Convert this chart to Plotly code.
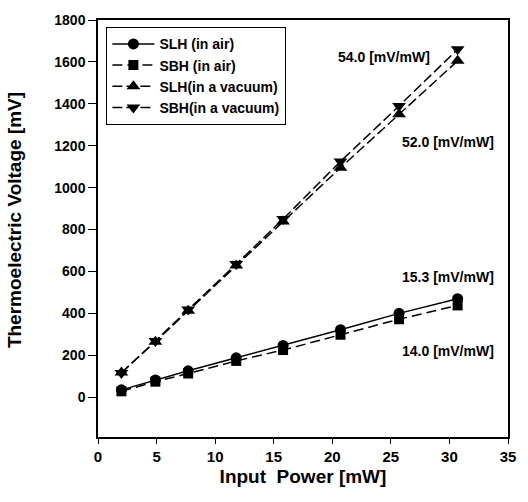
import plotly.graph_objects as go

power = [2.0, 4.9, 7.7, 11.8, 15.8, 20.7, 25.7, 30.7]
slh_air = [35, 82, 126, 188, 247, 322, 400, 470]
sbh_air = [28, 74, 113, 173, 225, 298, 372, 438]
slh_vac = [118, 265, 412, 628, 838, 1095, 1350, 1605]
sbh_vac = [115, 268, 418, 635, 850, 1125, 1390, 1660]

names = ["SLH (in air)", "SBH (in air)", "SLH(in a vacuum)", "SBH(in a vacuum)"]
slope_labels = ["15.3 [mV/mW]", "14.0 [mV/mW]", "52.0 [mV/mW]", "54.0 [mV/mW]"]
xticks = [0, 5, 10, 15, 20, 25, 30, 35]
yticks = [0, 200, 400, 600, 800, 1000, 1200, 1400, 1600, 1800]

FONT = "Liberation Sans, Arial, sans-serif"

fig = go.Figure()
series = [
    (slh_air, names[0], "solid", "circle", 11),
    (sbh_air, names[1], "10px,5px", "square", 10),
    (slh_vac, names[2], "10px,4px", "triangle-up", 12),
    (sbh_vac, names[3], "10px,4px", "triangle-down", 12),
]
for ys, nm, dash, sym, sz in series:
    fig.add_trace(go.Scatter(
        x=power, y=ys, name=nm, mode="lines+markers",
        line=dict(color="black", width=1.5, dash=dash),
        marker=dict(symbol=sym, size=sz, color="black"),
    ))

ann_pos = [(29.9, 573), (29.9, 220), (29.9, 1217), (24.4, 1622)]
for (ax, ay), txt in zip(ann_pos, slope_labels):
    fig.add_annotation(x=ax, y=ay, text=txt, showarrow=False,
                       font=dict(family=FONT, size=14, color="black", weight="bold"))

fig.add_annotation(xref="paper", yref="paper", x=-0.205, y=0.52,
                   text="Thermoelectric Voltage [mV]", textangle=-90,
                   showarrow=False, xanchor="center", yanchor="middle",
                   font=dict(family=FONT, size=19, color="black", weight="bold"))

axis_common = dict(
    showgrid=False, zeroline=False, showline=True, linecolor="black",
    linewidth=1.5, mirror=True, ticks="outside", tickcolor="black",
    tickwidth=1.2,
)
fig.update_xaxes(range=[0, 35], tickvals=xticks, ticklen=5,
                 tickfont=dict(family=FONT, size=15, color="black", weight="bold"),
                 title=dict(text="Input  Power [mW]", standoff=6,
                            font=dict(family=FONT, size=19, color="black", weight="bold")),
                 **axis_common)
fig.update_yaxes(range=[-190, 1800], tickvals=yticks, ticklen=8,
                 tickfont=dict(family=FONT, size=14, color="black", weight="bold"),
                 **axis_common)

fig.update_layout(
    width=528, height=502,
    margin=dict(l=98, r=14, t=14, b=65),
    paper_bgcolor="white", plot_bgcolor="white",
    font=dict(family=FONT, color="black"),
    legend=dict(x=0.02, y=0.983, xanchor="left", yanchor="top",
                bordercolor="black", borderwidth=1.2, bgcolor="white",
                font=dict(family=FONT, size=14, color="black", weight="bold"),
                tracegroupgap=0, itemwidth=42),
)

fig.write_html("out.html", config={"displayModeBar": False},
               post_script="document.body.style.margin='0';document.body.style.overflow='hidden';")
